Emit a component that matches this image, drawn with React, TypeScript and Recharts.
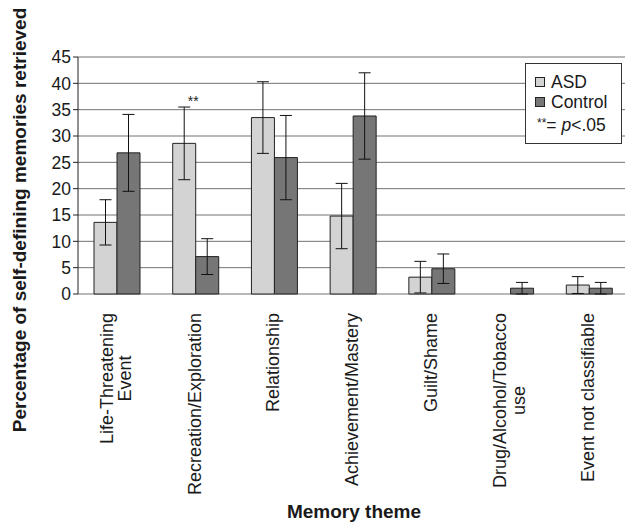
import React from 'react';
import { BarChart, Bar, XAxis, YAxis, CartesianGrid, ErrorBar, Legend, LabelList } from 'recharts';

const categories = [
  'Life-Threatening\nEvent',
  'Recreation/Exploration',
  'Relationship',
  'Achievement/Mastery',
  'Guilt/Shame',
  'Drug/Alcohol/Tobacco\nuse',
  'Event not classifiable',
];
const asdValues = [13.6, 28.6, 33.5, 14.8, 3.2, 0, 1.7];
const asdErrors = [4.3, 6.9, 6.8, 6.2, 3.0, 0, 1.6];
const controlValues = [26.8, 7.1, 25.9, 33.8, 4.8, 1.1, 1.1];
const controlErrors = [7.3, 3.4, 8.0, 8.2, 2.8, 1.1, 1.1];
const significance = ['', '**', '', '', '', '', ''];
const yTicks = [0, 5, 10, 15, 20, 25, 30, 35, 40, 45];
const edgeTicks = [0, 1, 2, 3, 4, 5, 6, 7];

const FONT = "'Liberation Sans', Arial, Helvetica, sans-serif";
const ASD_FILL = '#d2d3d2';
const CONTROL_FILL = '#767676';

const data = categories.map((name, i) => ({
  name,
  asd: asdValues[i],
  asdErr: asdErrors[i],
  control: controlValues[i],
  controlErr: controlErrors[i],
  sig: significance[i],
}));

let ctx: CanvasRenderingContext2D | null = null;
function measure(text: string, font: string) {
  if (!ctx) ctx = document.createElement('canvas').getContext('2d');
  if (!ctx) return text.length * 9;
  ctx.font = font;
  return ctx.measureText(text).width;
}

// category labels are rotated, multi-line ones centred on each other
function CategoryTick(props: any) {
  const { x, y, payload } = props;
  const lines = String(payload.value).split('\n');
  const fontSize = 18;
  const maxW = Math.max(...lines.map((l) => measure(l, `${fontSize}px ${FONT}`)));
  const cy = y + 11 + maxW / 2;
  const lineH = 18.7;
  return (
    <g>
      {lines.map((line, i) => {
        const cx = x - 1.7 + (i - (lines.length - 1) / 2) * lineH;
        return (
          <text
            key={i}
            transform={`translate(${cx}, ${cy}) rotate(-90)`}
            textAnchor="middle"
            dy="0.35em"
            fontSize={fontSize}
            fontFamily={FONT}
            fill="#1a1a1a"
          >
            {line}
          </text>
        );
      })}
    </g>
  );
}

function SigLabel(props: any) {
  const { index, value } = props;
  if (!value) return null;
  const vb = props.viewBox || props;
  const { x, y, width, height } = vb;
  const d = data[index];
  const pxPerUnit = height / d.asd;
  const errTop = y - d.asdErr * pxPerUnit;
  return (
    <text x={x + width / 2 + 9} y={errTop - 1} textAnchor="middle" fontSize={14} fontFamily={FONT} fill="#222">
      {value}
    </text>
  );
}

function LegendBox() {
  const swatch = (color: string) => (
    <span
      style={{
        display: 'inline-block',
        width: 8,
        height: 8,
        background: color,
        border: '1px solid #222',
        marginRight: 6,
        verticalAlign: 'middle',
        position: 'relative',
        top: -1,
      }}
    />
  );
  return (
    <div
      style={{
        border: '1px solid #333',
        background: '#fff',
        padding: '8px 0 6px 9px',
        fontFamily: FONT,
        fontSize: 17.5,
        lineHeight: '20px',
        color: '#1a1a1a',
        width: 86,
        boxSizing: 'content-box',
        whiteSpace: 'nowrap',
      }}
    >
      <div>{swatch(ASD_FILL)}ASD</div>
      <div>{swatch(CONTROL_FILL)}Control</div>
      <div style={{ marginTop: 3, marginLeft: 2 }}>
        <span style={{ fontSize: 12, position: 'relative', top: -4 }}>**</span>= <i>p</i>&lt;.05
      </div>
    </div>
  );
}

export default function App() {
  return (
    <div style={{ position: 'absolute', left: 0, top: 0, width: 625, height: 526, overflow: 'hidden', background: '#fff' }}>
      <BarChart
        width={632}
        height={526}
        data={data}
        margin={{ top: 57, right: 3, bottom: 0, left: 0 }}
        barSize={23}
        barGap={0}
      >
        <CartesianGrid vertical={false} stroke="#737373" strokeWidth={1} />
        <XAxis
          xAxisId="edge"
          type="number"
          domain={[0, 7]}
          ticks={edgeTicks}
          height={0}
          tick={false}
          tickSize={5}
          axisLine={{ stroke: '#222' }}
          tickLine={{ stroke: '#222' }}
        />
        <XAxis
          dataKey="name"
          height={232}
          axisLine={false}
          tickLine={false}
          interval={0}
          tick={<CategoryTick />}
          label={{
            content: () => (
              <text x={354} y={518} textAnchor="middle" fontSize={19} fontWeight="bold" fontFamily={FONT} fill="#1a1a1a">
                Memory theme
              </text>
            ),
          }}
        />
        <YAxis
          width={78}
          domain={[0, 45]}
          ticks={yTicks}
          interval={0}
          tickSize={5}
          axisLine={{ stroke: '#222' }}
          tickLine={{ stroke: '#222' }}
          tick={{ fontSize: 17.5, fontFamily: FONT, fill: '#1a1a1a' }}
          label={{
            content: () => (
              <text
                transform="translate(19.5, 220) rotate(-90)"
                textAnchor="middle"
                dy="0.35em"
                fontSize={19}
                fontWeight="bold"
                fontFamily={FONT}
                fill="#1a1a1a"
              >
                Percentage of self-defining memories retrieved
              </text>
            ),
          }}
        />
        <Legend
          layout="vertical"
          align="center"
          verticalAlign="middle"
          content={() => <LegendBox />}
          wrapperStyle={{ left: 525, top: 63, width: 96, height: 78 }}
        />
        <Bar dataKey="asd" name="ASD" fill={ASD_FILL} stroke="#222" strokeWidth={1} isAnimationActive={false}>
          <ErrorBar dataKey="asdErr" width={6} stroke="#111" strokeWidth={1} direction="y" />
          <LabelList dataKey="sig" content={<SigLabel />} />
        </Bar>
        <Bar dataKey="control" name="Control" fill={CONTROL_FILL} stroke="#222" strokeWidth={1} isAnimationActive={false}>
          <ErrorBar dataKey="controlErr" width={6} stroke="#111" strokeWidth={1} direction="y" />
        </Bar>
      </BarChart>
    </div>
  );
}
